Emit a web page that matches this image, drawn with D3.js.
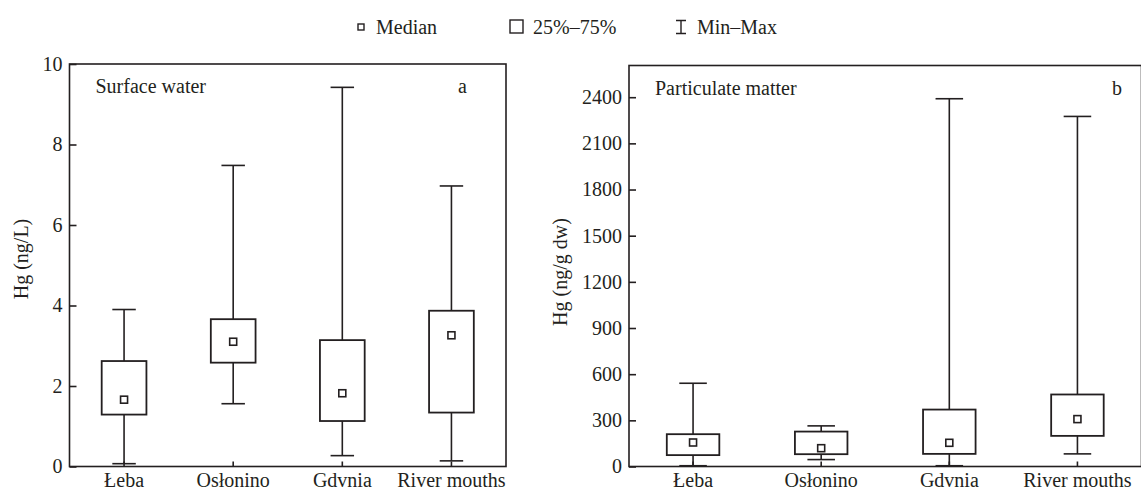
<!DOCTYPE html>
<html>
<head>
<meta charset="utf-8">
<script src="https://cdn.jsdelivr.net/npm/d3@7"></script>
<style>
  body { margin: 0; background: #fff; }
  svg text { font-family: 'Liberation Serif', 'DejaVu Serif', serif; fill: #231f20; }
</style>
</head>
<body>
<svg id="chart" width="1141" height="490"></svg>
<script>
/* categories shared by both panels */
const sites = ['Łeba', 'Osłonino', 'Gdvnia', 'River mouths']

/* panel a: surface water, Hg (ng/L) */
const waterMin = [0.07, 1.56, 0.27, 0.14]
const waterQ1 = [1.29, 2.58, 1.13, 1.34]
const waterMed = [1.66, 3.1, 1.82, 3.26]
const waterQ3 = [2.62, 3.66, 3.14, 3.87]
const waterMax = [3.9, 7.48, 9.42, 6.97]
const waterTicks = [0, 2, 4, 6, 8, 10]

/* panel b: particulate matter, Hg (ng/g dw) */
const pmMin = [5, 45, 5, 82]
const pmQ1 = [74, 80, 82, 199]
const pmMed = [156, 119, 154, 308]
const pmQ3 = [210, 227, 370, 468]
const pmMax = [541, 264, 2390, 2275]
const pmTicks = [0, 300, 600, 900, 1200, 1500, 1800, 2100, 2400]

/* legend entries */
const legendItems = ['Median', '25%–75%', 'Min–Max']

const ink = '#231f20'
const fontSize = '20px'
const serif = "'Liberation Serif', 'DejaVu Serif', serif"
const svg = d3.select('#chart')

/* fn: draw one boxplot panel */
function drawPanel(cfg) {
  const x = d3.scaleBand().domain(sites).range([cfg.left, cfg.right])
  const y = d3.scaleLinear().domain(cfg.domain).range([cfg.bottom, cfg.top])
  const g = svg.append('g')

  const rows = sites.map((s, i) => ({
    site: s, min: cfg.min[i], q1: cfg.q1[i], med: cfg.med[i], q3: cfg.q3[i], max: cfg.max[i]
  }))

  /* frame */
  g.append('rect')
    .attr('x', cfg.left).attr('y', cfg.top)
    .attr('width', cfg.right - cfg.left).attr('height', cfg.bottom - cfg.top)
    .attr('fill', 'none').attr('stroke', ink).attr('stroke-width', 1.6)

  /* y axis with inward ticks */
  const yAxis = d3.axisLeft(y).tickValues(cfg.ticks).tickFormat(d3.format('d'))
    .tickSize(-7).tickPadding(7)
  const ya = g.append('g').attr('transform', `translate(${cfg.left},0)`).call(yAxis)
    .attr('font-family', serif)
  ya.select('.domain').remove()
  ya.selectAll('line').attr('stroke', ink).attr('stroke-width', 1.6)
  ya.selectAll('text').style('font-size', fontSize).style('font-family', serif).attr('fill', ink)

  /* x axis with inward ticks */
  const xAxis = d3.axisBottom(x).tickSize(-5).tickPadding(6)
  const xa = g.append('g').attr('transform', `translate(0,${cfg.bottom})`).call(xAxis)
    .attr('font-family', serif)
  xa.select('.domain').remove()
  xa.selectAll('line').attr('stroke', ink).attr('stroke-width', 1.6)
  xa.selectAll('text').style('font-size', fontSize).style('font-family', serif).attr('fill', ink)

  const bw = x.bandwidth()
  const cx = (d) => x(d.site) + bw / 2
  const boxW = bw * 0.41
  const capW = bw * 0.215

  const box = g.selectAll('.box').data(rows).join('g').attr('class', 'box')

  /* whiskers */
  box.append('line')
    .attr('x1', cx).attr('x2', cx)
    .attr('y1', (d) => y(d.min)).attr('y2', (d) => y(d.max))
    .attr('stroke', ink).attr('stroke-width', 1.6)
  box.selectAll('.cap').data((d) => [d.min, d.max].map((v) => ({ site: d.site, v })))
    .join('line').attr('class', 'cap')
    .attr('x1', (d) => cx(d) - capW / 2).attr('x2', (d) => cx(d) + capW / 2)
    .attr('y1', (d) => y(d.v)).attr('y2', (d) => y(d.v))
    .attr('stroke', ink).attr('stroke-width', 1.6)

  /* 25-75 box */
  box.append('rect')
    .attr('x', (d) => cx(d) - boxW / 2).attr('width', boxW)
    .attr('y', (d) => y(d.q3)).attr('height', (d) => y(d.q1) - y(d.q3))
    .attr('fill', '#fff').attr('stroke', ink).attr('stroke-width', 1.8)

  /* median marker */
  box.append('rect')
    .attr('x', (d) => cx(d) - 3.5).attr('y', (d) => y(d.med) - 3.5)
    .attr('width', 7).attr('height', 7)
    .attr('fill', '#fff').attr('stroke', ink).attr('stroke-width', 1.6)

  /* panel titles */
  g.append('text').attr('x', cfg.left + 26).attr('y', cfg.top + 29)
    .style('font-size', fontSize).text(cfg.title)
  g.append('text').attr('x', cfg.letterX).attr('y', cfg.top + 29)
    .style('font-size', fontSize).text(cfg.letter)

  /* y label */
  g.append('text')
    .attr('transform', `translate(${cfg.labelX},${cfg.labelY}) rotate(-90)`)
    .attr('text-anchor', 'middle')
    .style('font-size', fontSize)
    .text(cfg.yLabel)
}

drawPanel({
  left: 69.5, right: 506, top: 64, bottom: 466.5,
  domain: [0, 10], ticks: waterTicks,
  min: waterMin, q1: waterQ1, med: waterMed, q3: waterQ3, max: waterMax,
  title: 'Surface water', letter: 'a', letterX: 458,
  yLabel: 'Hg (ng/L)', labelX: 28, labelY: 259
})

drawPanel({
  left: 629, right: 1141.5, top: 65.5, bottom: 466.5,
  domain: [0, 2606], ticks: pmTicks,
  min: pmMin, q1: pmQ1, med: pmMed, q3: pmQ3, max: pmMax,
  title: 'Particulate matter', letter: 'b', letterX: 1112,
  yLabel: 'Hg (ng/g dw)', labelX: 567, labelY: 272
})

/* legend */
const legX = [376, 533, 697]
const leg = svg.append('g')
legendItems.forEach((t, i) => {
  leg.append('text').attr('x', legX[i]).attr('y', 34).style('font-size', fontSize).text(t)
})
leg.append('rect').attr('x', 358).attr('y', 24).attr('width', 6).attr('height', 6)
  .attr('fill', '#fff').attr('stroke', ink).attr('stroke-width', 1.4)
leg.append('rect').attr('x', 510).attr('y', 20).attr('width', 13).attr('height', 13)
  .attr('fill', '#fff').attr('stroke', ink).attr('stroke-width', 1.4)
leg.append('path').attr('d', 'M676,20.5H686M681,20.5V33.5M676,33.5H686')
  .attr('fill', 'none').attr('stroke', ink).attr('stroke-width', 1.4)
</script>
</body>
</html>
